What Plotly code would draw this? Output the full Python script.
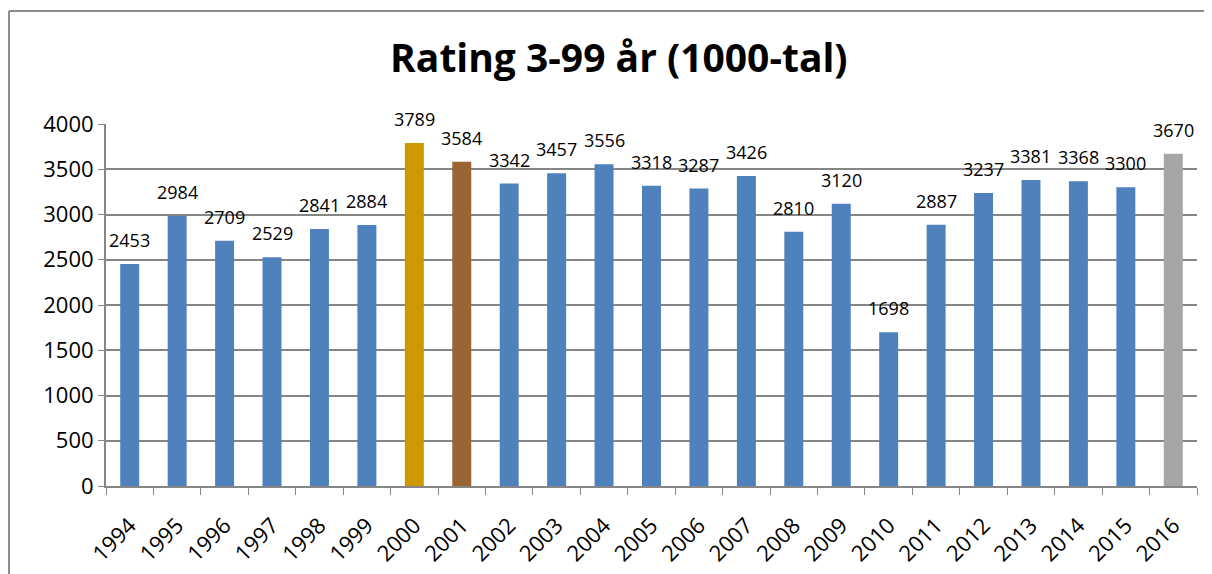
import plotly.graph_objects as go

# Rating 3-99 år, tusental per år
years = [str(y) for y in range(1994, 2017)]
rating = [2453, 2984, 2709, 2529, 2841, 2884, 3789, 3584, 3342, 3457, 3556, 3318,
          3287, 3426, 2810, 3120, 1698, 2887, 3237, 3381, 3368, 3300, 3670]

# avvikande färger för 2000, 2001 och 2016
special = {"2000": "#CC9900", "2001": "#996633", "2016": "#A6A6A6"}
colors = [special.get(y, "#4F81BD") for y in years]

font = "Open Sans"

fig = go.Figure()
fig.add_trace(go.Bar(
    x=years, y=rating,
    marker=dict(color=colors, line=dict(width=0)),
    width=0.4,
    hoverinfo="x+y",
))

# datatiketter ovanför staplarna (x = kategoriindex)
for i, v in enumerate(rating):
    fig.add_annotation(x=i, y=v, text=str(v), showarrow=False,
                       yanchor="middle", yshift=24,
                       font=dict(family=font, size=18, color="#000000"))

# ram runt diagrammet (vänster och överkant syns)
fig.add_shape(type="line", xref="paper", yref="paper",
              x0=-0.0889, y0=1.312, x1=1.2, y1=1.312,
              line=dict(color="#8C8C8C", width=2))
fig.add_shape(type="line", xref="paper", yref="paper",
              x0=-0.0889, y0=1.312, x1=-0.0889, y1=-0.5,
              line=dict(color="#8C8C8C", width=2))

fig.update_layout(
    width=1212, height=574,
    margin=dict(l=98, r=23, t=116, b=96),
    paper_bgcolor="white", plot_bgcolor="white",
    showlegend=False,
    title=dict(text="<b>Rating 3-99 år (1000-tal)</b>", x=0.504, xanchor="center",
               y=0.913, yanchor="middle",
               font=dict(family=font, size=39, color="#000000")),
    font=dict(family=font, size=20, color="#000000"),
    xaxis=dict(
        type="category", range=[-0.5, len(years) - 0.5],
        tickangle=-45, tickson="boundaries", ticks="outside", ticklen=7,
        tickcolor="#868686", showline=True, linecolor="#868686", linewidth=2,
        showgrid=False, tickfont=dict(size=22), ticklabelstandoff=16,
    ),
    yaxis=dict(
        range=[0, 4000], dtick=500, ticks="outside", ticklen=6,
        tickcolor="#868686", showline=True, linecolor="#868686", linewidth=2,
        showgrid=True, gridcolor="#868686", gridwidth=1.5,
        zeroline=False, tickfont=dict(size=22),
    ),
)

fig.write_html("out.html")
